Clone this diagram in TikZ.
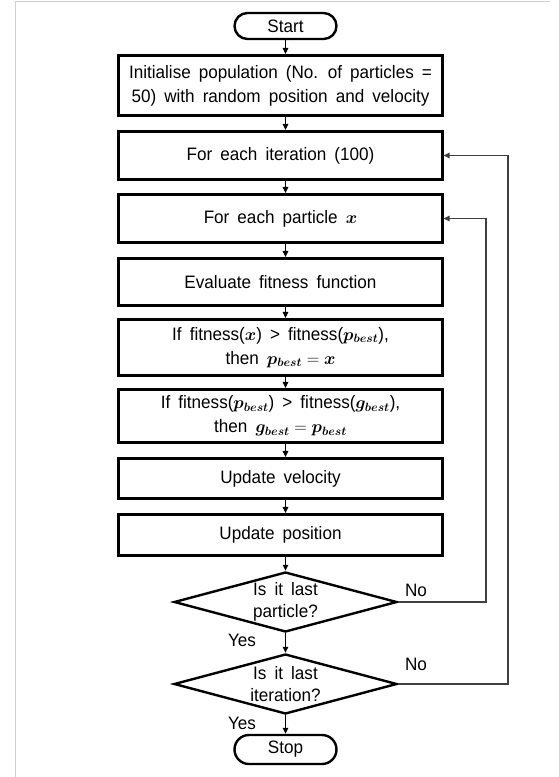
\documentclass[tikz,border=0pt]{standalone}
\usepackage{amsmath,bm}
\usepackage{fontspec}
\setmainfont[WordSpace=1.7,FakeStretch=0.95]{Liberation Sans}
\usetikzlibrary{arrows.meta,shapes.geometric,shapes.misc}
\newcommand\flowfont{\fontsize{18}{24}\selectfont}
\newcommand\decfont{\fontsize{18}{22}\selectfont}
\begin{document}
\begin{tikzpicture}[x=1pt,y=-1pt,
  box/.style={draw,line width=2.6pt,minimum width=323.5pt,inner sep=0pt,align=center,font=\flowfont},
  term/.style={draw,line width=2.4pt,rounded rectangle,minimum width=102pt,minimum height=26pt,inner sep=0pt,font=\flowfont},
  decision/.style={draw,line width=2.4pt,diamond,aspect=3.63,minimum width=223pt,minimum height=60pt,inner sep=0pt,align=center,font=\decfont},
  lbl/.style={font=\flowfont,inner sep=0pt},
  arr/.style={line width=1.1pt,-{Triangle[length=6pt,width=5.5pt]}},
  fb/.style={line width=1.1pt,draw=black!75,-{Triangle[length=6pt,width=5.5pt]}}]
\fill[white] (0,0) rectangle (558,777);
\useasboundingbox (0,0) rectangle (558,777);
\draw[black!18,line width=1pt] (15.5,777) -- (15.5,1.5) -- (550,1.5);

\node[term] (start) at (285.5,26) {Start};
\node[box,minimum height=60.5pt] (b1) at (280.5,85.5) {Initialise population (No. of particles =\\50) with random position and velocity};
\node[box,minimum height=48.5pt] (b2) at (280.5,155.5) {For each iteration (100)};
\node[box,minimum height=48.5pt] (b3) at (280.5,218.5) {For each particle $\bm{x}$};
\node[box,minimum height=47.5pt] (b4) at (280.5,282) {Evaluate fitness function};
\node[box,minimum height=56.5pt] (b5) at (280.5,347.5) {If fitness($\bm{x}$) > fitness($\bm{p_{best}}$),\\then $\bm{p_{best}} = \bm{x}$};
\node[box,minimum height=53.5pt] (b6) at (280.5,416) {If fitness($\bm{p_{best}}$) > fitness($\bm{g_{best}}$),\\then $\bm{g_{best}} = \bm{p_{best}}$};
\node[box,minimum height=40.5pt] (b7) at (280.5,478.5) {Update velocity};
\node[box,minimum height=41.5pt] (b8) at (280.5,535) {Update position};
\node[decision] (d1) at (285.5,602) {Is it last\\particle?};
\node[decision] (d2) at (285.5,684) {Is it last\\iteration?};
\node[term,minimum height=29pt] (stop) at (285.5,749.5) {Stop};

\node[lbl] (no1) at (416,590) {No};
\node[lbl] (no2) at (416,664) {No};
\node[lbl] (yes1) at (242,640) {Yes};
\node[lbl] (yes2) at (242,723) {Yes};

\draw[arr] (start.south) -- (start.south |- b1.north);
\draw[arr] (start.south |- b1.south) -- (start.south |- b2.north);
\draw[arr] (start.south |- b2.south) -- (start.south |- b3.north);
\draw[arr] (start.south |- b3.south) -- (start.south |- b4.north);
\draw[arr] (start.south |- b4.south) -- (start.south |- b5.north);
\draw[arr] (start.south |- b5.south) -- (start.south |- b6.north);
\draw[arr] (start.south |- b6.south) -- (start.south |- b7.north);
\draw[arr] (start.south |- b7.south) -- (start.south |- b8.north);
\draw[arr] (start.south |- b8.south) -- (d1.north);
\draw[arr] (d1.south) -- (d2.north);
\draw[arr] (d2.south) -- (stop.north);

\coordinate (fb1) at (486,0);
\coordinate (fb2) at (508,0);
\draw[fb] (d1.east) -- (d1.east -| fb1) -- (b3.east -| fb1) -- (b3.east);
\draw[fb] (d2.east) -- (d2.east -| fb2) -- (b2.east -| fb2) -- (b2.east);
\end{tikzpicture}
\end{document}
